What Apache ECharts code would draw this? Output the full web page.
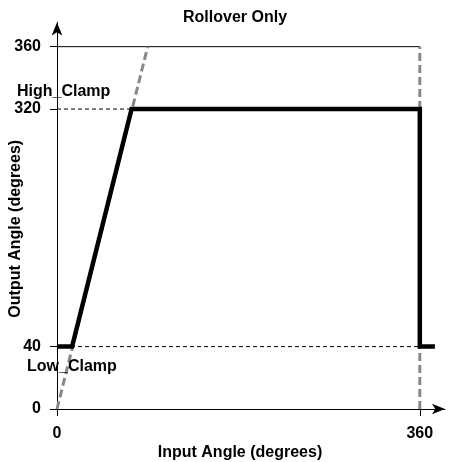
<!DOCTYPE html>
<html>
<head>
<meta charset="utf-8">
<script src="https://cdn.jsdelivr.net/npm/echarts@6/dist/echarts.min.js"></script>
<style>
  html, body { margin: 0; padding: 0; background: #fff; }
  #chart { width: 451px; height: 462px; }
</style>
</head>
<body>
<div id="chart"></div>
<script>
// tick values and the schematic (non-linear) spacing of the output axis
var xTicks = [0, 360];
var yTicks = [0, 40, 320, 360];
var yAxisUnits = [0, 62, 298, 360];

var clampNames = ['Low_Clamp', 'High_Clamp'];
var clampValues = [40, 320];

// clamped + rollover output
var outputX = [0, 15, 74, 360, 360, 375];
var outputY = [40, 40, 320, 320, 40, 40];

// unclamped ramp and rollover edge (grey dashed)
var rampX = [0, 90];
var rampY = [0, 360];
var rolloverX = [360, 360];
var rolloverY = [0, 360];

var FONT = 'Liberation Sans, Arial, sans-serif';
var FS = 16;

function to_axis(v) {
    for (var i = 1; i < yTicks.length; i++) {
        if (v <= yTicks[i]) {
            var t = (v - yTicks[i - 1]) / (yTicks[i] - yTicks[i - 1]);
            return yAxisUnits[i - 1] + t * (yAxisUnits[i] - yAxisUnits[i - 1]);
        }
    }
    return v;
}
function pairs(xs, ys) {
    return xs.map(function (x, i) { return [x, to_axis(ys[i])]; });
}
function thin_line(data, type) {
    return {
        type: 'line', data: data, symbol: 'none', silent: true, z: 1,
        lineStyle: { color: '#000', width: 1, type: type }
    };
}
function clamp_label(pos) {
    return {
        show: true, formatter: '{b}', position: pos, align: 'left', verticalAlign: 'middle',
        fontFamily: FONT, fontSize: FS, fontWeight: 'bold', color: '#000', opacity: 1
    };
}

var chart = echarts.init(document.getElementById('chart'));
chart.setOption({
    animation: false,
    textStyle: { fontFamily: FONT },
    title: {
        text: 'Rollover Only', left: 183, top: 10, padding: 0,
        textStyle: { fontFamily: FONT, fontSize: FS, fontWeight: 'bold', color: '#000' }
    },
    grid: { left: 57, right: 6, top: 22.5, bottom: 53, containLabel: false, outerBoundsMode: 'none' },
    xAxis: {
        type: 'value', min: 0, max: 385,
        name: 'Input Angle (degrees)', nameLocation: 'middle', nameGap: 36, nameMoveOverlap: false,
        nameTextStyle: { fontFamily: FONT, fontSize: FS, fontWeight: 'bold', color: '#000', padding: [0, 22, 0, 0] },
        axisLine: { lineStyle: { color: '#000', width: 1 }, symbol: ['none', 'arrow'], symbolSize: [8, 13] },
        axisTick: { customValues: xTicks, length: 7, lineStyle: { color: '#000' } },
        axisLabel: {
            customValues: xTicks, margin: 17,
            fontFamily: FONT, fontSize: FS, fontWeight: 'bold', color: '#000'
        },
        splitLine: { show: false }
    },
    yAxis: {
        type: 'value', min: 0, max: 384,
        name: 'Output Angle (degrees)', nameLocation: 'middle', nameGap: 33, nameMoveOverlap: false,
        nameTextStyle: { fontFamily: FONT, fontSize: FS, fontWeight: 'bold', color: '#000', padding: [0, 26, 0, 0] },
        axisLine: { lineStyle: { color: '#000', width: 1 }, symbol: ['none', 'arrow'], symbolSize: [8, 13] },
        axisTick: { customValues: yAxisUnits, length: 7, lineStyle: { color: '#000' } },
        axisLabel: {
            customValues: yAxisUnits, margin: 16,
            fontFamily: FONT, fontSize: FS, fontWeight: 'bold', color: '#000',
            formatter: function (v) {
                var i = yAxisUnits.indexOf(v);
                return i < 0 ? '' : String(yTicks[i]);
            }
        },
        splitLine: { show: false }
    },
    series: [
        thin_line(pairs([0, 360], [360, 360]), 'solid'),
        thin_line(pairs([0, outputX[2]], [clampValues[1], clampValues[1]]), [4, 3]),
        thin_line(pairs([0, 360], [clampValues[0], clampValues[0]]), [4, 3]),
        {
            type: 'line', data: pairs(rampX, rampY), symbol: 'none', silent: true, z: 2,
            lineStyle: { color: '#888', width: 3, type: [8, 4] }
        },
        {
            type: 'line', data: pairs(rolloverX, rolloverY), symbol: 'none', silent: true, z: 2,
            lineStyle: { color: '#888', width: 3, type: [8, 4] }
        },
        {
            type: 'line', data: pairs(outputX, outputY), symbol: 'none', silent: true, z: 3,
            lineStyle: { color: '#000', width: 4.5, join: 'miter', cap: 'butt' }
        },
        {
            type: 'scatter', symbolSize: 0, silent: true, z: 4,
            itemStyle: { opacity: 1 },
            data: [
                { value: [0, to_axis(clampValues[0])], name: clampNames[0], label: clamp_label([-30, 19.5]) },
                { value: [0, to_axis(clampValues[1])], name: clampNames[1], label: clamp_label([-40, -17]) }
            ]
        }
    ]
});
</script>
</body>
</html>
